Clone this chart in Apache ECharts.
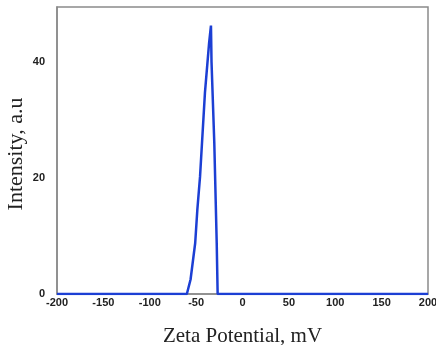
<!DOCTYPE html>
<html><head><meta charset="utf-8">
<script src="https://cdn.jsdelivr.net/npm/echarts@6/dist/echarts.min.js"></script>
<style>html,body{margin:0;padding:0;background:#fff}#c{width:436px;height:345px}</style>
</head><body><div id="c"></div>
<script>
const zeta = [-200, -60, -56, -51, -48.7, -45.8, -40.5, -36, -34, -33.4, -30.4, -27.8, -26.8, 200];
const intensity = [0, 0, 2.5, 8.8, 14.5, 20.2, 34.7, 43.3, 46.3, 40, 26, 8.8, 0, 0];
const xTicks = [-200, -150, -100, -50, 0, 50, 100, 150, 200];
const yTicks = [0, 20, 40];
const yTitle = 'Intensity, a.u';

const chart = echarts.init(document.getElementById('c'));
chart.setOption({
  animation: false,
  grid: {left: 57, right: 8, top: 7, bottom: 51, outerBoundsMode: 'none', containLabel: false,
    show: true, borderColor: '#8a8a8a', borderWidth: 1.5, backgroundColor: '#fff'},
  graphic: [{
    type: 'text', x: 16, y: 154, rotation: Math.PI / 2,
    style: {text: yTitle, font: '22px "Liberation Serif"', fill: '#222', align: 'center', verticalAlign: 'middle'}
  }],
  xAxis: {
    type: 'value', min: -200, max: 200, interval: 50,
    name: 'Zeta Potential, mV', nameLocation: 'middle', nameGap: 32,
    nameTextStyle: {fontFamily: 'Liberation Serif', fontSize: 21, color: '#222'},
    axisLine: {onZero: false, lineStyle: {color: '#8a8a8a', width: 1.5}},
    axisTick: {show: false},
    splitLine: {show: false},
    axisLabel: {fontFamily: 'Liberation Sans', fontWeight: 'bold', fontSize: 11, color: '#222', margin: 3,
      formatter: v => xTicks.includes(v) ? String(v) : ''}
  },
  yAxis: {
    type: 'value', min: 0, max: 49.5, interval: 20,
    axisLine: {show: true, onZero: false, lineStyle: {color: '#8a8a8a', width: 1.5}},
    axisTick: {show: false},
    splitLine: {show: false},
    axisLabel: {fontFamily: 'Liberation Sans', fontWeight: 'bold', fontSize: 11, color: '#222', margin: 12,
      formatter: v => yTicks.includes(v) ? String(v) : ''}
  },
  series: [{
    type: 'line', data: zeta.map((x, i) => [x, intensity[i]]),
    symbol: 'none', lineStyle: {color: '#1c3fd4', width: 2.5}
  }]
});
</script></body></html>
